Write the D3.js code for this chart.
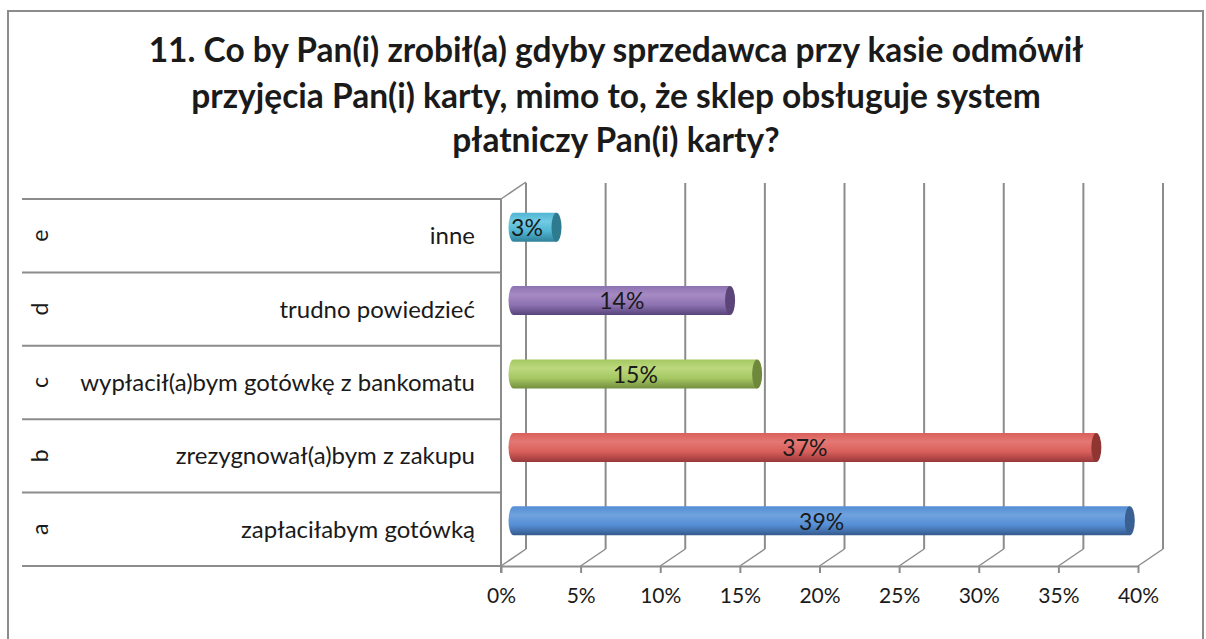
<!DOCTYPE html>
<html>
<head>
<meta charset="utf-8">
<script src="https://cdn.jsdelivr.net/npm/d3@7"></script>
<style>
  body { margin: 0; background: #fff; }
  text { font-family: Lato, "Open Sans", sans-serif; fill: #1a1a1a; }
</style>
</head>
<body>
<div id="chart"></div>
<script>
const titleLines = [
    '11. Co by Pan(i) zrobił(a) gdyby sprzedawca przy kasie odmówił',
    'przyjęcia Pan(i) karty, mimo to, że sklep obsługuje system',
    'płatniczy Pan(i) karty?',
];
const letters = ['a', 'b', 'c', 'd', 'e'];
const answers = [
    'zapłaciłabym gotówką',
    'zrezygnował(a)bym z zakupu',
    'wypłacił(a)bym gotówkę z bankomatu',
    'trudno powiedzieć',
    'inne',
];
const values = [38.7, 36.6, 15.3, 13.6, 2.7];
const valueLabels = ['39%', '37%', '15%', '14%', '3%'];
const tickValues = [0, 5, 10, 15, 20, 25, 30, 35, 40];

const colors = [
    { light: '#6fa2de', base: '#558ed5', dark: '#34598c', cap: '#3a5f91' },
    { light: '#e47874', base: '#d95f5b', dark: '#97383a', cap: '#8f3532' },
    { light: '#bcd97e', base: '#a5c761', dark: '#748f3f', cap: '#6e883c' },
    { light: '#a58ac4', base: '#8d72b1', dark: '#58437a', cap: '#5a4478' },
    { light: '#72cbe3', base: '#4fb5d2', dark: '#2f8199', cap: '#2e7b90' },
];

const WIDTH = 1206;
const HEIGHT = 639;
const GRID = '#8c8c8c';
const DX = 25;
const DY = -17;
const TABLE_LEFT = 22;

const svg = d3.select('#chart')
    .append('svg')
    .attr('width', WIDTH)
    .attr('height', HEIGHT);

// outer frame
svg.append('rect')
    .attr('x', 8).attr('y', 11)
    .attr('width', 1195).attr('height', 700)
    .attr('fill', 'none')
    .attr('stroke', GRID)
    .attr('stroke-width', 2);

// title, sized so the first line fills its width
const title = svg.append('g');
const titleY = [62, 108, 152];
titleLines.forEach((line, i) => {
    title.append('text')
        .attr('x', 616)
        .attr('y', titleY[i])
        .attr('text-anchor', 'middle')
        .attr('font-weight', 'bold')
        .attr('font-size', 28)
        .text(line);
});
const firstWidth = title.select('text').node().getComputedTextLength();
title.selectAll('text').attr('font-size', 28 * 935 / firstWidth);

const x = d3.scaleLinear().domain([0, 40]).range([501, 1138]);
const y = d3.scaleBand().domain(letters).range([566, 199]);

// back wall gridlines
svg.append('g')
    .selectAll('line')
    .data(tickValues)
    .join('line')
    .attr('x1', (d) => x(d) + DX).attr('x2', (d) => x(d) + DX)
    .attr('y1', 183).attr('y2', 566 + DY)
    .attr('stroke', GRID).attr('stroke-width', 2);

// floor diagonals
svg.append('g')
    .selectAll('line')
    .data(tickValues)
    .join('line')
    .attr('x1', (d) => x(d)).attr('y1', 566)
    .attr('x2', (d) => x(d) + DX).attr('y2', 566 + DY)
    .attr('stroke', GRID).attr('stroke-width', 1.5);

// left wall
svg.append('line')
    .attr('x1', x(0)).attr('y1', 199)
    .attr('x2', x(0) + DX).attr('y2', 199 + DY)
    .attr('stroke', GRID).attr('stroke-width', 1.5);
svg.append('line')
    .attr('x1', x(0)).attr('x2', x(0))
    .attr('y1', 199).attr('y2', 573)
    .attr('stroke', GRID).attr('stroke-width', 2);

// category table lines
const bounds = letters.map((d) => y(d)).concat([566]);
svg.append('g')
    .selectAll('line')
    .data(bounds)
    .join('line')
    .attr('x1', TABLE_LEFT).attr('x2', x(0))
    .attr('y1', (d) => d).attr('y2', (d) => d)
    .attr('stroke', GRID).attr('stroke-width', 2);

// x axis
const xAxis = svg.append('g')
    .attr('transform', 'translate(0,566)')
    .call(d3.axisBottom(x)
        .tickValues(tickValues)
        .tickFormat((d) => `${d}%`)
        .tickSize(7)
        .tickSizeOuter(0)
        .tickPadding(15));
xAxis.select('.domain').attr('stroke', GRID).attr('stroke-width', 2);
xAxis.selectAll('.tick line').attr('stroke', GRID).attr('stroke-width', 2);
xAxis.selectAll('.tick text')
    .attr('font-size', 21)
    .attr('font-family', 'Lato, sans-serif')
    .attr('fill', '#1a1a1a');

// category labels
const rows = svg.append('g')
    .selectAll('g')
    .data(letters)
    .join('g')
    .attr('transform', (d) => `translate(0,${y(d) + y.bandwidth() / 2})`);
rows.append('text')
    .attr('transform', 'translate(40,0) rotate(-90)')
    .attr('text-anchor', 'middle')
    .attr('dy', '0.35em')
    .attr('font-size', 23)
    .text((d) => d);
const labels = rows.append('text')
    .attr('x', 475)
    .attr('text-anchor', 'end')
    .attr('dy', '0.35em')
    .attr('font-size', 20)
    .text((d, i) => answers[i]);
const longest = d3.max(labels.nodes(), (n) => n.getComputedTextLength());
labels.attr('font-size', 20 * 395 / longest);

// cylinders
const defs = svg.append('defs');
colors.forEach((c, i) => {
    const g = defs.append('linearGradient')
        .attr('id', `grad${i}`)
        .attr('x1', 0).attr('y1', 0).attr('x2', 0).attr('y2', 1);
    g.append('stop').attr('offset', '0%').attr('stop-color', c.base);
    g.append('stop').attr('offset', '30%').attr('stop-color', c.light);
    g.append('stop').attr('offset', '65%').attr('stop-color', c.base);
    g.append('stop').attr('offset', '100%').attr('stop-color', c.dark);
});

const BAR_H = 29;
const RX = 5;
const bars = svg.append('g')
    .selectAll('g')
    .data(letters)
    .join('g')
    .attr('transform', (d) => `translate(${DX / 2},${y(d) + y.bandwidth() / 2 + DY / 2})`);

bars.append('path')
    .attr('d', (d, i) => {
        const x0 = x(0);
        const x1 = x(values[i]);
        const h = BAR_H / 2;
        return `M${x0},${-h} L${x1},${-h} L${x1},${h} L${x0},${h} A${RX},${h} 0 0 1 ${x0},${-h} Z`;
    })
    .attr('fill', (d, i) => `url(#grad${i})`);

bars.append('ellipse')
    .attr('cx', (d, i) => x(values[i]))
    .attr('cy', 0)
    .attr('rx', RX)
    .attr('ry', BAR_H / 2)
    .attr('fill', (d, i) => colors[i].cap);

bars.append('text')
    .attr('x', (d, i) => (x(0) + x(values[i])) / 2 - (i === 4 ? 8 : 0))
    .attr('text-anchor', 'middle')
    .attr('dy', '0.38em')
    .attr('font-size', 23)
    .text((d, i) => valueLabels[i]);
</script>
</body>
</html>
